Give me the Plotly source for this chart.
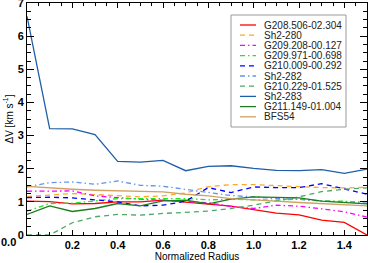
import plotly.graph_objects as go

radius = [0.0, 0.1, 0.2, 0.3, 0.4, 0.5, 0.6, 0.7, 0.8, 0.9, 1.0, 1.1, 1.2, 1.3, 1.4, 1.5]

names = ["G208.506-02.304", "Sh2-280", "G209.208-00.127", "G209.971-00.698",
         "G210.009-00.292", "Sh2-282", "G210.229-01.525", "Sh2-283",
         "G211.149-01.004", "BFS54"]

g208 = [1.02, 1.01, 0.94, 0.95, 1.0, 1.0, 1.05, 1.0, 0.93, 0.87, 0.77, 0.66, 0.61, 0.45, 0.38, 0.0]
sh2_280 = [1.16, 1.2, 1.25, 1.22, 1.18, 1.15, 1.18, 1.27, 1.46, 1.52, 1.52, 1.5, 1.46, 1.43, 1.42, 1.44]
g209_208 = [1.32, 1.33, 1.33, 1.18, 1.12, 1.08, 1.05, 1.0, 0.97, 0.86, 0.8, 0.9, 0.87, 0.79, 0.7, 0.54]
g209_971 = [0.72, 0.95, 0.96, 1.03, 1.1, 1.1, 1.1, 1.1, 1.06, 1.08, 1.06, 1.05, 1.08, 1.03, 1.02, 0.95]
g210_009 = [1.13, 1.14, 1.12, 1.06, 1.0, 0.88, 0.9, 1.02, 1.43, 1.28, 1.45, 1.43, 1.43, 1.55, 1.4, 1.23]
sh2_282 = [1.45, 1.58, 1.6, 1.53, 1.63, 1.5, 1.47, 1.38, 1.28, 1.19, 1.15, 1.1, 1.08, 1.02, 1.0, 1.0]
g210_229 = [0.0, 0.0, 0.37, 0.55, 0.62, 0.6, 0.65, 0.68, 0.72, 0.8, 0.9, 1.03, 1.15, 1.31, 1.38, 1.42]
sh2_283 = [6.6, 3.21, 3.2, 3.03, 2.22, 2.2, 2.25, 1.94, 2.07, 2.09, 2.01, 1.95, 1.94, 1.97, 1.86, 1.99]
g211_149 = [0.62, 0.88, 0.71, 0.8, 0.95, 0.88, 1.03, 1.05, 0.94, 1.08, 1.15, 1.13, 1.12, 1.02, 0.97, 0.94]
bfs54 = [1.47, 1.42, 1.38, 1.35, 1.33, 1.33, 1.3, 1.23, 1.18, 1.1, 1.07, 1.02, 0.98, 0.95, 0.92, 0.88]

series = [g208, sh2_280, g209_208, g209_971, g210_009, sh2_282, g210_229, sh2_283, g211_149, bfs54]
colors = ["#ff0000", "#ffa726", "#ff00ff", "#22e622", "#0000ff", "#6495ed",
          "#4caa64", "#1f5ea8", "#1e7d1e", "#d2a060"]
DASH = "5px,4px"
DASHDOT = "5px,3px,1.5px,3px"
dashes = ["solid", DASH, DASHDOT, DASHDOT, DASH, DASHDOT, DASH, "solid", "solid", "solid"]

x_ticks = [0.0, 0.2, 0.4, 0.6, 0.8, 1.0, 1.2, 1.4]
x_tick_labels = ["0.0", "0.2", "0.4", "0.6", "0.8", "1.0", "1.2", "1.4"]
y_ticks = [0, 1, 2, 3, 4, 5, 6, 7]

FONT = "Liberation Sans, Arial, sans-serif"

fig = go.Figure()
for name, vals, c, d in zip(names, series, colors, dashes):
    fig.add_trace(go.Scatter(x=radius, y=vals, mode="lines", name=name,
                             line=dict(color=c, width=1.3, dash=d),
                             showlegend=False))

W, H = 368, 263
L, R, T, B = 27, 1, 3, 28
pw, ph = W - L - R, H - T - B

def px(xp):
    return (xp - L) / pw

def py(yp):
    return (H - B - yp) / ph

# manual legend (compact rows)
fig.add_shape(type="rect", xref="paper", yref="paper",
              x0=px(231), x1=px(346), y0=py(127), y1=py(15),
              line=dict(color="#999999", width=1), fillcolor="white", layer="above")
for i, (name, c, d) in enumerate(zip(names, colors, dashes)):
    yy = 25 + i * 10.2
    fig.add_shape(type="line", xref="paper", yref="paper",
                  x0=px(240), x1=px(256), y0=py(yy), y1=py(yy),
                  line=dict(color=c, width=1.3, dash=d), layer="above")
    fig.add_annotation(x=px(262), y=py(yy), xref="paper", yref="paper",
                       text=name, showarrow=False, xanchor="left", yanchor="middle",
                       font=dict(size=10, color="#222222", family=FONT))

tickfont = dict(size=11, color="black", family=FONT, weight="bold")

# first x tick label sits left of the axis corner in the reference
shown_x_labels = [""] + x_tick_labels[1:]
fig.add_annotation(x=px(8.5), y=py(242), xref="paper", yref="paper",
                   text=x_tick_labels[0], showarrow=False, xanchor="center",
                   yanchor="middle", font=tickfont)

axis_common = dict(showgrid=False, zeroline=False, showline=True, linecolor="black",
                   linewidth=1, mirror="ticks", ticks="inside", tickcolor="black",
                   tickfont=tickfont, ticklabeloverflow="allow")

fig.update_xaxes(range=[0, 1.5], tickvals=x_ticks, ticktext=shown_x_labels,
                 ticklen=5, tickwidth=1,
                 minor=dict(dtick=0.05, ticklen=3, ticks="inside", tickcolor="black"),
                 title=dict(text="Normalized Radius", standoff=2,
                            font=dict(size=10, color="black", family=FONT)),
                 **axis_common)
fig.update_yaxes(range=[0, 7], tickvals=y_ticks, ticklen=7, tickwidth=1,
                 minor=dict(dtick=0.25, ticklen=4, ticks="inside", tickcolor="black"),
                 title=dict(text="ΔV [km s<sup>-1</sup>]", standoff=2,
                            font=dict(size=10, color="black", family=FONT)),
                 **axis_common)

fig.update_layout(width=W, height=H,
                  margin=dict(l=L, r=R, t=T, b=B, autoexpand=False),
                  paper_bgcolor="white", plot_bgcolor="white",
                  font=dict(family=FONT))

fig.write_html("out.html", config={"displayModeBar": False},
               post_script="document.body.style.margin='0px';document.body.style.overflow='hidden';")
